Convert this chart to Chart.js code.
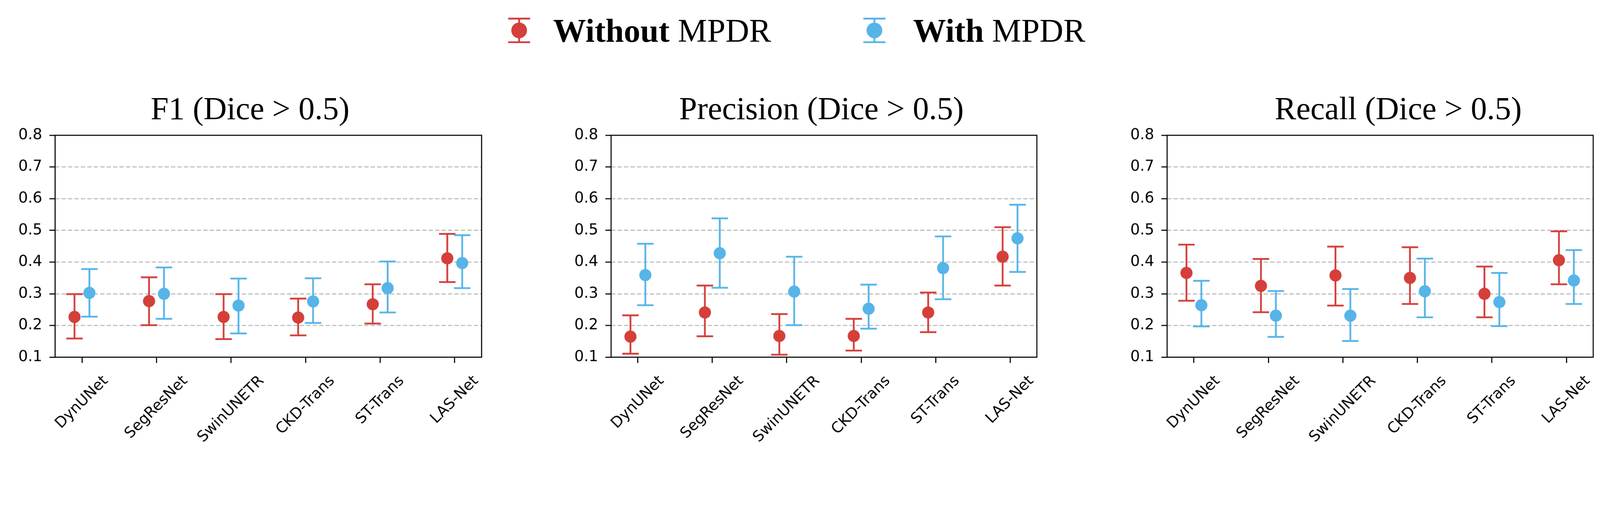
<!DOCTYPE html>
<html>
<head>
<meta charset="utf-8">
<title>With / Without MPDR</title>
<script src="https://cdn.jsdelivr.net/npm/chart.js@4.4.1/dist/chart.umd.min.js"></script>
<style>
html, body {
  margin: 0;
  padding: 0;
  background: #fff;
  overflow: hidden;
}
#page {
  position: relative;
  width: 4472px;
  height: 1300px;
  transform-origin: 0 0;
}
canvas {
  position: absolute;
}
.title {
  position: absolute;
  width: 1000px;
  text-align: center;
  font-family: "Liberation Serif", "Times New Roman", serif;
  font-size: 90px;
  line-height: 90px;
  color: #000;
  white-space: nowrap;
}
.legtext {
  position: absolute;
  font-family: "Liberation Serif", "Times New Roman", serif;
  font-size: 92px;
  line-height: 92px;
  color: #000;
  white-space: nowrap;
}
.legmark {
  position: absolute;
}
</style>
</head>
<body>
<div id="page"></div>

<script>
// categories and tick labels
const models = ['DynUNet', 'SegResNet', 'SwinUNETR', 'CKD-Trans', 'ST-Trans', 'LAS-Net'];
const yTickValues = [0.1, 0.2, 0.3, 0.4, 0.5, 0.6, 0.7, 0.8];
const panelTitles = ['F1 (Dice > 0.5)', 'Precision (Dice > 0.5)', 'Recall (Dice > 0.5)'];
const seriesNames = ['Without', 'With'];
const seriesColors = ['#D43F3A', '#56B4E9'];

// F1
const f1WithoutMean = [0.227, 0.277, 0.227, 0.225, 0.267, 0.412];
const f1WithoutLow  = [0.159, 0.201, 0.157, 0.169, 0.206, 0.337];
const f1WithoutHigh = [0.299, 0.352, 0.299, 0.285, 0.330, 0.489];
const f1WithMean    = [0.303, 0.300, 0.263, 0.276, 0.318, 0.397];
const f1WithLow     = [0.228, 0.221, 0.175, 0.208, 0.241, 0.318];
const f1WithHigh    = [0.378, 0.383, 0.348, 0.349, 0.402, 0.485];

// Precision
const precWithoutMean = [0.165, 0.241, 0.167, 0.167, 0.241, 0.417];
const precWithoutLow  = [0.111, 0.166, 0.108, 0.121, 0.179, 0.326];
const precWithoutHigh = [0.232, 0.326, 0.236, 0.221, 0.304, 0.510];
const precWithMean    = [0.359, 0.428, 0.307, 0.253, 0.381, 0.475];
const precWithLow     = [0.264, 0.319, 0.201, 0.190, 0.283, 0.369];
const precWithHigh    = [0.458, 0.538, 0.417, 0.329, 0.481, 0.581];

// Recall
const recWithoutMean = [0.366, 0.325, 0.358, 0.350, 0.300, 0.406];
const recWithoutLow  = [0.278, 0.242, 0.263, 0.268, 0.226, 0.330];
const recWithoutHigh = [0.455, 0.410, 0.449, 0.447, 0.386, 0.497];
const recWithMean    = [0.264, 0.231, 0.231, 0.308, 0.274, 0.342];
const recWithLow     = [0.197, 0.164, 0.151, 0.226, 0.198, 0.268];
const recWithHigh    = [0.341, 0.309, 0.315, 0.411, 0.366, 0.438];

const panels = [
  {title: panelTitles[0], left: 0,    width: 1363, titleCenter: 699,
   means: [f1WithoutMean, f1WithMean], lows: [f1WithoutLow, f1WithLow], highs: [f1WithoutHigh, f1WithHigh]},
  {title: panelTitles[1], left: 1554, width: 1361, titleCenter: 2296,
   means: [precWithoutMean, precWithMean], lows: [precWithoutLow, precWithLow], highs: [precWithoutHigh, precWithHigh]},
  {title: panelTitles[2], left: 3108, width: 1362, titleCenter: 3908,
   means: [recWithoutMean, recWithMean], lows: [recWithoutLow, recWithLow], highs: [recWithoutHigh, recWithHigh]}
];

const xOffsets = [-0.1, 0.1];

const page = document.getElementById('page');
// layout is in 4472x1300 units; fit it to the real viewport width
const fit = window.innerWidth / 4472;
page.style.transform = 'scale(' + fit + ')';

// error bars drawn from the dataset's own lows/highs through the scales
const errorBarPlugin = {
  id: 'errorBars',
  beforeDatasetsDraw(chart) {
    const ctx = chart.ctx;
    const x = chart.scales.x, y = chart.scales.y;
    chart.data.datasets.forEach(ds => {
      ctx.save();
      ctx.strokeStyle = ds.backgroundColor;
      ctx.lineWidth = 5;
      ds.data.forEach((pt, i) => {
        const px = x.getPixelForValue(pt.x);
        const top = y.getPixelForValue(ds.highs[i]);
        const bot = y.getPixelForValue(ds.lows[i]);
        ctx.beginPath();
        ctx.moveTo(px, top); ctx.lineTo(px, bot);
        ctx.moveTo(px - 23, top); ctx.lineTo(px + 23, top);
        ctx.moveTo(px - 23, bot); ctx.lineTo(px + 23, bot);
        ctx.stroke();
      });
      ctx.restore();
    });
  }
};

// box around the plot area and rotated category labels centred on the ticks
const framePlugin = {
  id: 'frame',
  afterDraw(chart) {
    const ctx = chart.ctx;
    const a = chart.chartArea;
    ctx.save();
    ctx.strokeStyle = '#000';
    ctx.lineWidth = 3;
    ctx.strokeRect(a.left, a.top, a.right - a.left, a.bottom - a.top);

    const x = chart.scales.x;
    ctx.fillStyle = '#000';
    ctx.font = '42px "DejaVu Sans"';
    ctx.textAlign = 'center';
    ctx.textBaseline = 'middle';
    const h = 42;
    models.forEach((name, i) => {
      const w = ctx.measureText(name).width;
      const cx = x.getPixelForValue(i);
      const cy = a.bottom + 45 + (w + h) / (2 * Math.SQRT2);
      ctx.save();
      ctx.translate(cx, cy);
      ctx.rotate(-Math.PI / 4);
      ctx.fillText(name, 0, 0);
      ctx.restore();
    });
    ctx.restore();
  }
};

function makePanel(p, idx) {
  const t = document.createElement('div');
  t.className = 'title';
  t.style.left = (p.titleCenter - 500) + 'px';
  t.style.top = '258px';
  t.textContent = p.title;
  page.appendChild(t);

  const cv = document.createElement('canvas');
  cv.id = 'panel' + idx;
  cv.width = p.width;
  cv.height = 1000;
  cv.style.left = p.left + 'px';
  cv.style.top = '300px';
  page.appendChild(cv);

  const datasets = seriesNames.map((name, s) => ({
    label: name + ' MPDR',
    data: models.map((m, i) => ({x: i + xOffsets[s], y: p.means[s][i]})),
    lows: p.lows[s],
    highs: p.highs[s],
    backgroundColor: seriesColors[s],
    borderColor: seriesColors[s],
    pointRadius: 17,
    pointBorderWidth: 0,
    pointHoverRadius: 17
  }));

  new Chart(cv.getContext('2d'), {
    type: 'scatter',
    data: {datasets: datasets},
    plugins: [errorBarPlugin, framePlugin],
    options: {
      responsive: false,
      animation: false,
      devicePixelRatio: 1,
      layout: {padding: {top: 78, right: 10, bottom: 286, left: 0}},
      plugins: {
        legend: {display: false},
        tooltip: {enabled: false},
        title: {display: false}
      },
      scales: {
        x: {
          type: 'linear',
          min: -0.36,
          max: 5.36,
          afterBuildTicks: s => { s.ticks = models.map((m, i) => ({value: i})); },
          afterFit: s => { s.height = 16; },
          ticks: {display: false},
          border: {display: false},
          grid: {
            drawOnChartArea: false,
            drawTicks: true,
            tickLength: 16,
            tickWidth: 3,
            tickColor: '#000',
            tickBorderDash: []
          }
        },
        y: {
          type: 'linear',
          min: 0.1,
          max: 0.8,
          afterBuildTicks: s => { s.ticks = yTickValues.map(v => ({value: v})); },
          afterFit: s => { s.width = 154; },
          ticks: {
            color: '#000',
            padding: 20,
            font: {family: '"DejaVu Sans"', size: 42},
            callback: v => v.toFixed(1)
          },
          border: {display: false, dash: [12, 6]},
          grid: {
            color: c => (c.tick && (c.tick.value === 0.1 || c.tick.value === 0.8)) ? 'rgba(0,0,0,0)' : '#b0b0b0',
            lineWidth: 2.5,
            drawTicks: true,
            tickLength: 16,
            tickWidth: 3,
            tickColor: '#000',
            tickBorderDash: []
          }
        }
      }
    }
  });
}

panels.forEach(makePanel);

// legend
const legendLeft = [1420, 2413];
const legendTextLeft = [1546, 2552];
seriesNames.forEach((name, s) => {
  const ns = 'http://www.w3.org/2000/svg';
  const svg = document.createElementNS(ns, 'svg');
  svg.setAttribute('class', 'legmark');
  svg.setAttribute('width', '62');
  svg.setAttribute('height', '80');
  svg.style.left = legendLeft[s] + 'px';
  svg.style.top = '45px';
  svg.innerHTML =
    '<line x1="31" y1="7" x2="31" y2="73" stroke="' + seriesColors[s] + '" stroke-width="5"/>' +
    '<line x1="0" y1="7" x2="62" y2="7" stroke="' + seriesColors[s] + '" stroke-width="5"/>' +
    '<line x1="0" y1="73" x2="62" y2="73" stroke="' + seriesColors[s] + '" stroke-width="5"/>' +
    '<circle cx="31" cy="40" r="22" fill="' + seriesColors[s] + '"/>';
  page.appendChild(svg);

  const t = document.createElement('div');
  t.className = 'legtext';
  t.style.left = legendTextLeft[s] + 'px';
  t.style.top = '40px';
  t.innerHTML = '<b>' + name + '</b> MPDR';
  page.appendChild(t);
});
</script>
</body>
</html>
